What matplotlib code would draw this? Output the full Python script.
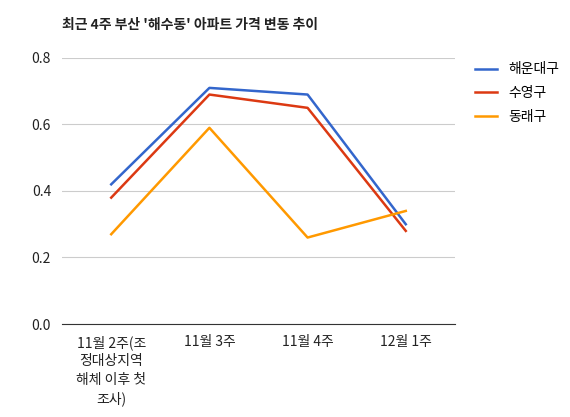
import matplotlib
matplotlib.use("Agg")
import matplotlib.pyplot as plt

plt.rcParams['font.family'] = ['Noto Sans CJK KR', 'DejaVu Sans']

categories = ["11월 2주(조\n정대상지역\n해체 이후 첫\n조사)", "11월 3주", "11월 4주", "12월 1주"]
haeundae = [0.42, 0.71, 0.69, 0.30]
suyeong = [0.38, 0.69, 0.65, 0.28]
dongnae = [0.27, 0.59, 0.26, 0.34]
series_names = ["해운대구", "수영구", "동래구"]
colors = ["#3366cc", "#dc3912", "#ff9900"]

fig = plt.figure(figsize=(5.7, 4.17), dpi=100)
ax = fig.add_axes([0.109, 0.223, 0.689, 0.638])
x = range(len(categories))
for vals, name, c in zip([haeundae, suyeong, dongnae], series_names, colors):
    ax.plot(x, vals, color=c, lw=1.8, label=name)
ax.set_xlim(-0.5, 3.5)
ax.set_ylim(0, 0.8)
ax.set_yticks([0, 0.2, 0.4, 0.6, 0.8])
ax.set_yticklabels(["0.0", "0.2", "0.4", "0.6", "0.8"])
ax.set_xticks(list(x))
ax.set_xticklabels(categories, va='top', linespacing=1.4)
ax.grid(axis='y', color='#cccccc', lw=0.8)
for s in ['top', 'right', 'left']:
    ax.spines[s].set_visible(False)
ax.spines['bottom'].set_color('#333333')
ax.tick_params(length=0, labelsize=10, colors='#222222', pad=8)
ax.set_axisbelow(True)
ax.legend(loc='upper left', bbox_to_anchor=(1.02, 1.03), frameon=False, fontsize=10,
          handlelength=1.6, labelspacing=0.7)
fig.text(0.109, 0.93, "최근 4주 부산 '해수동' 아파트 가격 변동 추이", fontsize=10, fontweight='bold', color='#222222')
fig.savefig("out.png", dpi=100)
